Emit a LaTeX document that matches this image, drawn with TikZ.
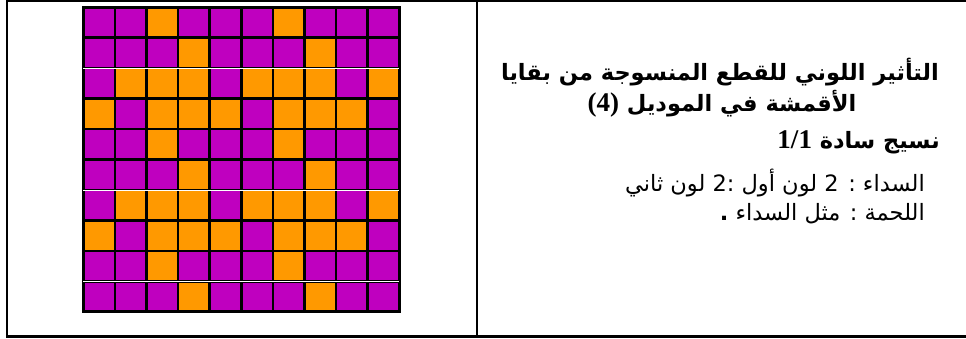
\documentclass[tikz,border=0pt]{standalone}
\usepackage{fontspec}
\setmainfont{Liberation Serif}
\newfontfamily\arabicfont[Script=Arabic]{DejaVu Sans}
\TeXXeTstate=1
\definecolor{c0}{RGB}{191,0,191}
\definecolor{c1}{RGB}{255,153,0}
\tikzset{
  cell/.style={draw=black, line width=2.6pt},
  frame/.style={draw=black, line width=2.4pt},
  seam/.style={draw=white, line width=0.8pt},
  boldline/.style={inner sep=0pt, font=\fontsize{22.5}{26}\selectfont\bfseries},
  plainline/.style={inner sep=0pt, font=\fontsize{22.5}{26}\selectfont},
}
\newcommand\latinnum[1]{\beginL{\rmfamily\bfseries\fontsize{27}{30}\selectfont #1}\endL}
\begin{document}
\begin{tikzpicture}[x=1pt,y=-1pt]
\useasboundingbox (0,0) rectangle (966,338);
% frame
\draw[frame] (7,1.2) -- (966,1.2);
\draw[frame] (7,336.5) -- (966,336.5);
\draw[frame] (7,0) -- (7,338);
\draw[frame] (477,0) -- (477,338);
% grid
\foreach \rowlist [count=\r from 0] in {
  {0,0,1,0,0,0,1,0,0,0},
  {0,0,0,1,0,0,0,1,0,0},
  {0,1,1,1,0,1,1,1,0,1},
  {1,0,1,1,1,0,1,1,1,0},
  {0,0,1,0,0,0,1,0,0,0},
  {0,0,0,1,0,0,0,1,0,0},
  {0,1,1,1,0,1,1,1,0,1},
  {1,0,1,1,1,0,1,1,1,0},
  {0,0,1,0,0,0,1,0,0,0},
  {0,0,0,1,0,0,0,1,0,0}} {
  \foreach \v [count=\c from 0] in \rowlist {
    \filldraw[cell, fill=c\v] ({83.3+31.6*\c},{7.3+30.44*\r}) rectangle ++(31.6,30.44);
  }
}
\foreach \r in {2,6,9} {
  \draw[seam] (83.3,{7.3+30.44*\r}) -- (399.3,{7.3+30.44*\r});
}
% texts
\node[boldline] (t1) at (720,72) {\arabicfont\beginR التأثير اللوني للقطع المنسوجة من بقايا\endR};
\node[boldline] (t2) at (722,104) {\arabicfont\beginR الأقمشة في الموديل \latinnum{(4)}\endR};
\node[boldline, anchor=east] (t3) at (940,142) {\arabicfont\beginR نسيج سادة \latinnum{1/1}\endR};
\node[plainline, anchor=east] (t4) at (925,183) {\arabicfont\beginR السداء : 2 لون أول :2 لون ثاني\endR};
\node[plainline, anchor=east] (t5) at (925,214) {\arabicfont\beginR اللحمة : مثل السداء {\bfseries .}\endR};
\end{tikzpicture}
\end{document}
